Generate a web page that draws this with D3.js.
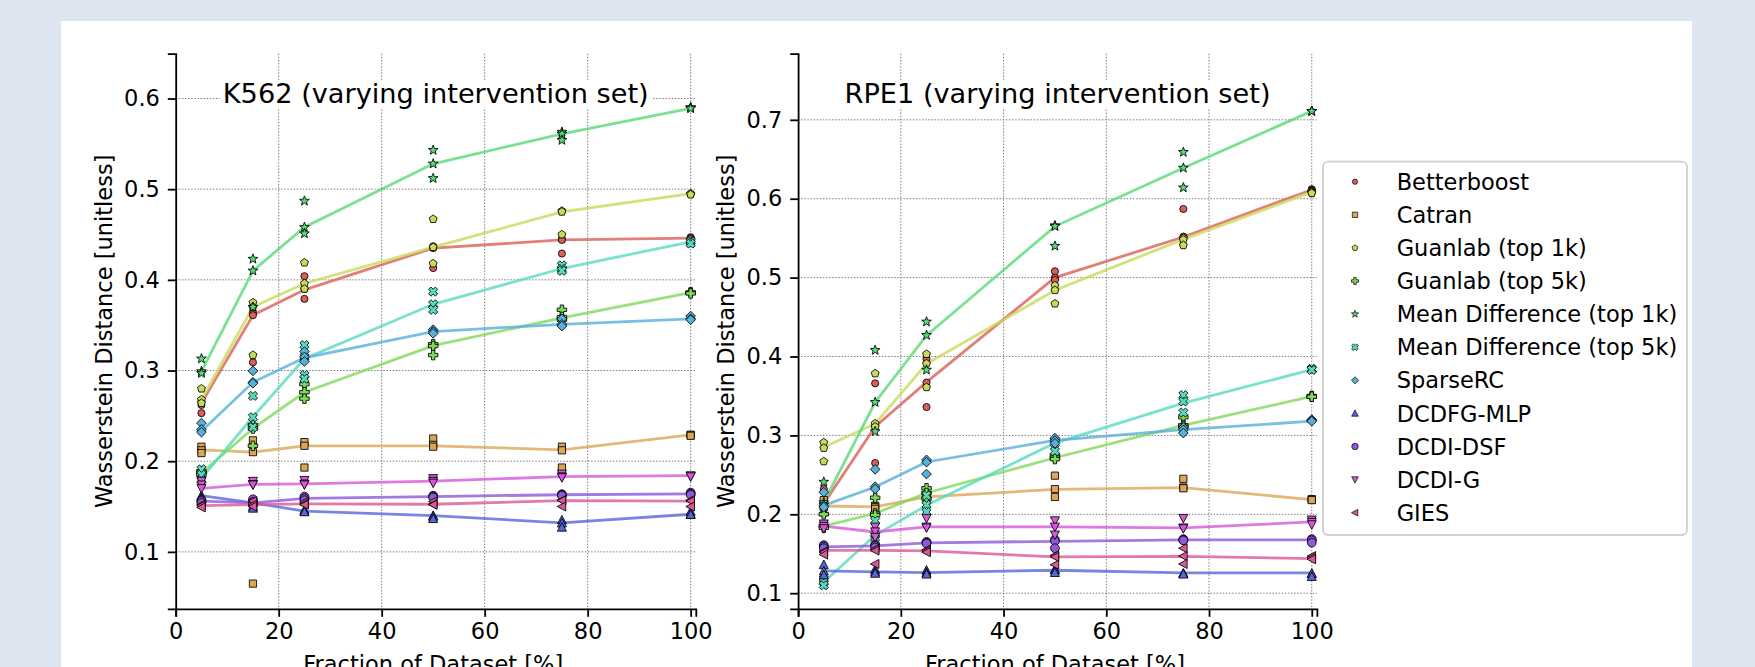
<!DOCTYPE html>
<html>
<head>
<meta charset="utf-8">
<script src="https://cdn.jsdelivr.net/npm/d3@7"></script>
<style>
  body { margin: 0; background: #dce5f0; }
  svg { display: block; font-family: "DejaVu Sans", sans-serif; }
</style>
</head>
<body>
<svg width="1755" height="667"></svg>
<script>
const svg = d3.select("svg");

// ---- data ----
const methods = ["Betterboost", "Catran", "Guanlab (top 1k)", "Guanlab (top 5k)",
  "Mean Difference (top 1k)", "Mean Difference (top 5k)", "SparseRC",
  "DCDFG-MLP", "DCDI-DSF", "DCDI-G", "GIES"];
const fractions = [5, 15, 25, 50, 75, 100];
const xTicks = [0, 20, 40, 60, 80, 100];
const k562YTicks = [0.1, 0.2, 0.3, 0.4, 0.5, 0.6];
const rpe1YTicks = [0.1, 0.2, 0.3, 0.4, 0.5, 0.6, 0.7];

// line values (one per fraction), method order as above
const k562Lines = [
  [0.264, 0.361, 0.389, 0.435, 0.444, 0.446],
  [0.2125, 0.210, 0.217, 0.217, 0.2125, 0.229],
  [0.268, 0.370, 0.396, 0.436, 0.475, 0.495],
  [0.187, 0.236, 0.276, 0.3275, 0.358, 0.386],
  [0.299, 0.410, 0.458, 0.528, 0.561, 0.589],
  [0.181, 0.249, 0.313, 0.373, 0.4125, 0.442],
  [0.233, 0.287, 0.314, 0.343, 0.351, 0.357],
  [0.162, 0.154, 0.145, 0.140, 0.132, 0.1415],
  [0.156, 0.154, 0.159, 0.161, 0.163, 0.164],
  [0.170, 0.1745, 0.175, 0.178, 0.183, 0.184],
  [0.151, 0.152, 0.153, 0.1525, 0.1566, 0.156]
];
// individual runs, per method, per fraction
const k562Points = [
  [[0.266,0.262,0.253],[0.364,0.361,0.309],[0.404,0.390,0.379],[0.437,0.435,0.413],[0.445,0.444,0.429],[0.447,0.446,0.445]],
  [[0.216,0.212,0.209],[0.223,0.210,0.065],[0.221,0.217,0.193],[0.225,0.218,0.216],[0.216,0.212,0.193],[0.229,0.229,0.228]],
  [[0.280,0.268,0.264],[0.375,0.370,0.317],[0.419,0.396,0.390],[0.467,0.436,0.418],[0.476,0.475,0.450],[0.495,0.495,0.494]],
  [[0.189,0.187,0.185],[0.240,0.236,0.217],[0.285,0.276,0.269],[0.329,0.327,0.317],[0.367,0.359,0.356],[0.386,0.386,0.385]],
  [[0.313,0.299,0.297],[0.423,0.410,0.370],[0.487,0.458,0.451],[0.543,0.528,0.512],[0.563,0.561,0.554],[0.590,0.590,0.589]],
  [[0.191,0.185,0.179],[0.272,0.2485,0.2375],[0.328,0.315,0.295,0.291],[0.387,0.373,0.367],[0.416,0.412,0.410],[0.443,0.442,0.440]],
  [[0.242,0.235,0.232],[0.2996,0.287,0.286],[0.321,0.315,0.310],[0.345,0.343,0.341],[0.357,0.351,0.349],[0.360,0.357,0.356]],
  [[0.162,0.160,0.158],[0.154,0.150,0.148],[0.146,0.145,0.144],[0.140,0.139,0.1365],[0.135,0.1316,0.127],[0.1445,0.1415,0.141]],
  [[0.157,0.156,0.154],[0.158,0.155,0.153],[0.161,0.159,0.157],[0.162,0.161,0.160],[0.1636,0.163,0.162],[0.1654,0.164,0.163]],
  [[0.178,0.174,0.170],[0.178,0.1745,0.174],[0.179,0.175,0.174],[0.181,0.178,0.176],[0.186,0.183,0.182],[0.1838,0.184,0.183]],
  [[0.152,0.151,0.149],[0.156,0.152,0.150],[0.155,0.153,0.152],[0.1555,0.1525,0.152],[0.157,0.1566,0.150],[0.157,0.156,0.150]]
];

const rpe1Lines = [
  [0.2135, 0.311, 0.3675, 0.500, 0.5515, 0.6114],
  [0.2105, 0.2093, 0.222, 0.2316, 0.2338, 0.2186],
  [0.285, 0.3148, 0.3907, 0.484, 0.5485, 0.6084],
  [0.185, 0.201, 0.227, 0.2717, 0.3127, 0.3494],
  [0.215, 0.342, 0.4266, 0.565, 0.639, 0.711],
  [0.1143, 0.1734, 0.2114, 0.2903, 0.341, 0.3835],
  [0.2114, 0.2346, 0.2663, 0.2937, 0.3072, 0.318],
  [0.1283, 0.127, 0.1262, 0.1291, 0.1257, 0.1257],
  [0.1587, 0.160, 0.1637, 0.1658, 0.1675, 0.1675],
  [0.185, 0.1776, 0.184, 0.184, 0.1827, 0.1903],
  [0.1544, 0.1544, 0.1536, 0.146, 0.1468, 0.1439]
];
const rpe1Points = [
  [[0.232,0.214,0.201],[0.366,0.311,0.265],[0.397,0.367,0.336],[0.508,0.500,0.497],[0.587,0.552,0.550],[0.612,0.611,0.610]],
  [[0.218,0.211,0.209],[0.211,0.209,0.207],[0.224,0.222,0.218],[0.249,0.232,0.222],[0.245,0.234,0.233],[0.219,0.219,0.218]],
  [[0.291,0.284,0.267],[0.3785,0.315,0.311],[0.403,0.391,0.361],[0.490,0.484,0.467],[0.550,0.548,0.541],[0.609,0.608,0.607]],
  [[0.200,0.185,0.183],[0.221,0.201,0.199],[0.233,0.227,0.220],[0.275,0.272,0.270],[0.323,0.313,0.311],[0.350,0.349,0.349]],
  [[0.241,0.215,0.212],[0.408,0.342,0.305],[0.444,0.427,0.383],[0.566,0.565,0.540],[0.659,0.639,0.614],[0.711,0.711,0.711]],
  [[0.118,0.114,0.110],[0.192,0.174,0.170],[0.224,0.212,0.203],[0.2925,0.290,0.280],[0.351,0.343,0.329],[0.384,0.384,0.383]],
  [[0.228,0.211,0.209],[0.257,0.235,0.232],[0.269,0.266,0.251],[0.2965,0.2935,0.290],[0.310,0.307,0.303],[0.320,0.319,0.318]],
  [[0.136,0.128,0.123],[0.130,0.127,0.125],[0.129,0.126,0.124],[0.130,0.129,0.126],[0.125,0.125,0.124],[0.1246,0.125,0.121]],
  [[0.161,0.159,0.157],[0.162,0.160,0.158],[0.165,0.164,0.163],[0.168,0.166,0.157],[0.1685,0.1675,0.167],[0.1685,0.167,0.164]],
  [[0.188,0.185,0.182],[0.184,0.178,0.171],[0.195,0.184,0.183],[0.192,0.184,0.174],[0.195,0.183,0.182],[0.193,0.190,0.187]],
  [[0.153,0.152,0.149],[0.156,0.154,0.137],[0.155,0.154,0.152],[0.148,0.146,0.136],[0.157,0.147,0.137],[0.147,0.145,0.143]]
];

// ---- style ----
// seaborn hls palette (11 colours, l=.6, s=.65)
const colors = ["#db5f57", "#dba757", "#c7db57", "#7edb57", "#57db77", "#57dbbf",
  "#57afdb", "#5767db", "#8f57db", "#d757db", "#db5797"];
const shapes = ["o", "s", "p", "P", "*", "X", "D", "^", "O", "v", "<"];
const FONT = 22.5;

function markerPath(type, s) {
  const r = s / 2;
  const poly = pts => "M" + pts.map(p => p[0].toFixed(2) + "," + p[1].toFixed(2)).join("L") + "Z";
  const circ = rr => `M${rr},0A${rr},${rr} 0 1,1 ${-rr},0A${rr},${rr} 0 1,1 ${rr},0Z`;
  switch (type) {
    case "o": return circ(r * 0.75);
    case "O": return circ(r * 0.92);
    case "s": return poly([[-r*0.76,-r*0.76],[r*0.76,-r*0.76],[r*0.76,r*0.76],[-r*0.76,r*0.76]]);
    case "D": return poly([[0,-r*1.02],[r*1.02,0],[0,r*1.02],[-r*1.02,0]]);
    case "^": return poly([[0,-r],[r*0.95,r*0.8],[-r*0.95,r*0.8]]);
    case "v": return poly([[0,r],[r*0.95,-r*0.8],[-r*0.95,-r*0.8]]);
    case "<": return poly([[-r,0],[r*0.8,-r*0.95],[r*0.8,r*0.95]]);
    case "p": {
      const pts = d3.range(5).map(k => { const a = -Math.PI/2 + k*2*Math.PI/5; return [r*0.88*Math.cos(a), r*0.88*Math.sin(a)]; });
      return poly(pts);
    }
    case "*": {
      const pts = d3.range(10).map(k => { const a = -Math.PI/2 + k*Math.PI/5; const rr = k % 2 ? r*0.45 : r*1.08; return [rr*Math.cos(a), rr*Math.sin(a)]; });
      return poly(pts);
    }
    case "P": {
      const a = r * 0.36;
      return poly([[-a,-r],[a,-r],[a,-a],[r,-a],[r,a],[a,a],[a,r],[-a,r],[-a,a],[-r,a],[-r,-a],[-a,-a]]);
    }
    case "X": {
      const a = r * 0.36, c = Math.SQRT1_2;
      const base = [[-a,-r],[a,-r],[a,-a],[r,-a],[r,a],[a,a],[a,r],[-a,r],[-a,a],[-r,a],[-r,-a],[-a,-a]];
      return poly(base.map(p => [c*(p[0]-p[1]), c*(p[0]+p[1])]));
    }
  }
}

// card
svg.append("rect").attr("x", 61).attr("y", 21).attr("width", 1631).attr("height", 700).attr("fill", "white");

const panels = [
  { title: "K562 (varying intervention set)", lines: k562Lines, points: k562Points,
    left: 175.7, right: 695.8, top: 53.7, bottom: 608.9, ylim: [0.0371, 0.6494], yTicks: k562YTicks },
  { title: "RPE1 (varying intervention set)", lines: rpe1Lines, points: rpe1Points,
    left: 798.1, right: 1316.9, top: 53.7, bottom: 608.9, ylim: [0.0801, 0.7838], yTicks: rpe1YTicks }
];

panels.forEach(p => {
  const x = d3.scaleLinear().domain([0, 101]).range([p.left, p.right]);
  const y = d3.scaleLinear().domain(p.ylim).range([p.bottom, p.top]);
  const g = svg.append("g");

  // grid
  const grid = g.append("g").attr("stroke", "#707070").attr("stroke-width", 0.9)
    .attr("stroke-dasharray", "1.5,1.6");
  grid.selectAll(".gx").data(xTicks.filter(t => t > 0)).join("line")
    .attr("x1", d => x(d)).attr("x2", d => x(d)).attr("y1", p.top).attr("y2", p.bottom);
  grid.selectAll(".gy").data(p.yTicks).join("line")
    .attr("x1", p.left).attr("x2", p.right).attr("y1", d => y(d)).attr("y2", d => y(d));

  // title with white box
  const t = g.append("text").attr("x", (p.left + p.right) / 2).attr("y", 102.7)
    .attr("text-anchor", "middle").attr("font-size", 27.2).attr("fill", "#000").text(p.title);
  const bb = t.node().getBBox();
  g.insert("rect", "text").attr("x", bb.x - 3).attr("y", bb.y + 3).attr("width", bb.width + 6)
    .attr("height", bb.height - 4).attr("fill", "white");

  // median lines
  const line = d3.line().x((d, i) => x(fractions[i])).y(d => y(d));
  p.lines.forEach((vals, m) => {
    g.append("path").datum(vals).attr("d", line).attr("fill", "none")
      .attr("stroke", colors[m]).attr("stroke-width", 2.8).attr("stroke-opacity", 0.8);
  });

  // runs
  p.points.forEach((perX, m) => {
    perX.forEach((vals, i) => {
      vals.forEach(v => {
        g.append("path").attr("d", markerPath(shapes[m], 9.5))
          .attr("transform", `translate(${x(fractions[i])},${y(v)})`)
          .attr("fill", colors[m]).attr("stroke", "#000").attr("stroke-width", 0.85);
      });
    });
  });

  // axes
  const ax = g.append("g").attr("transform", `translate(0,${p.bottom})`)
    .call(d3.axisBottom(x).tickValues(xTicks).tickSizeOuter(0).tickSize(7.9).tickPadding(6));
  const ay = g.append("g").attr("transform", `translate(${p.left},0)`)
    .call(d3.axisLeft(y).tickValues(p.yTicks).tickFormat(d3.format(".1f")).tickSizeOuter(0).tickSize(7.9).tickPadding(7.9));
  [ax, ay].forEach(a => {
    a.selectAll("path, line").attr("stroke", "#000").attr("stroke-width", 1.8);
    a.selectAll("text").attr("font-size", FONT).attr("font-family", "DejaVu Sans").attr("fill", "#000");
  });

  g.append("text").attr("x", (p.left + p.right - 5) / 2).attr("y", 672)
    .attr("text-anchor", "middle").attr("font-size", FONT).text("Fraction of Dataset [%]");
  g.append("text").attr("transform", `translate(${p.left - 64},${(p.top + p.bottom) / 2}) rotate(-90)`)
    .attr("text-anchor", "middle").attr("font-size", FONT).text("Wasserstein Distance [unitless]");
});

// legend
const lg = svg.append("g");
lg.append("rect").attr("x", 1323).attr("y", 161.7).attr("width", 364).attr("height", 373.3)
  .attr("rx", 5).attr("fill", "white").attr("stroke", "#d0d0d0").attr("stroke-width", 1.8);
methods.forEach((name, m) => {
  const yy = 181.7 + m * 33.1;
  lg.append("path").attr("d", markerPath(shapes[m], 7)).attr("transform", `translate(1355,${yy})`)
    .attr("fill", colors[m]).attr("stroke", "#000").attr("stroke-width", 0.7);
  lg.append("text").attr("x", 1396.7).attr("y", yy).attr("dy", "0.36em")
    .attr("font-size", FONT).text(name);
});
</script>
</body>
</html>
